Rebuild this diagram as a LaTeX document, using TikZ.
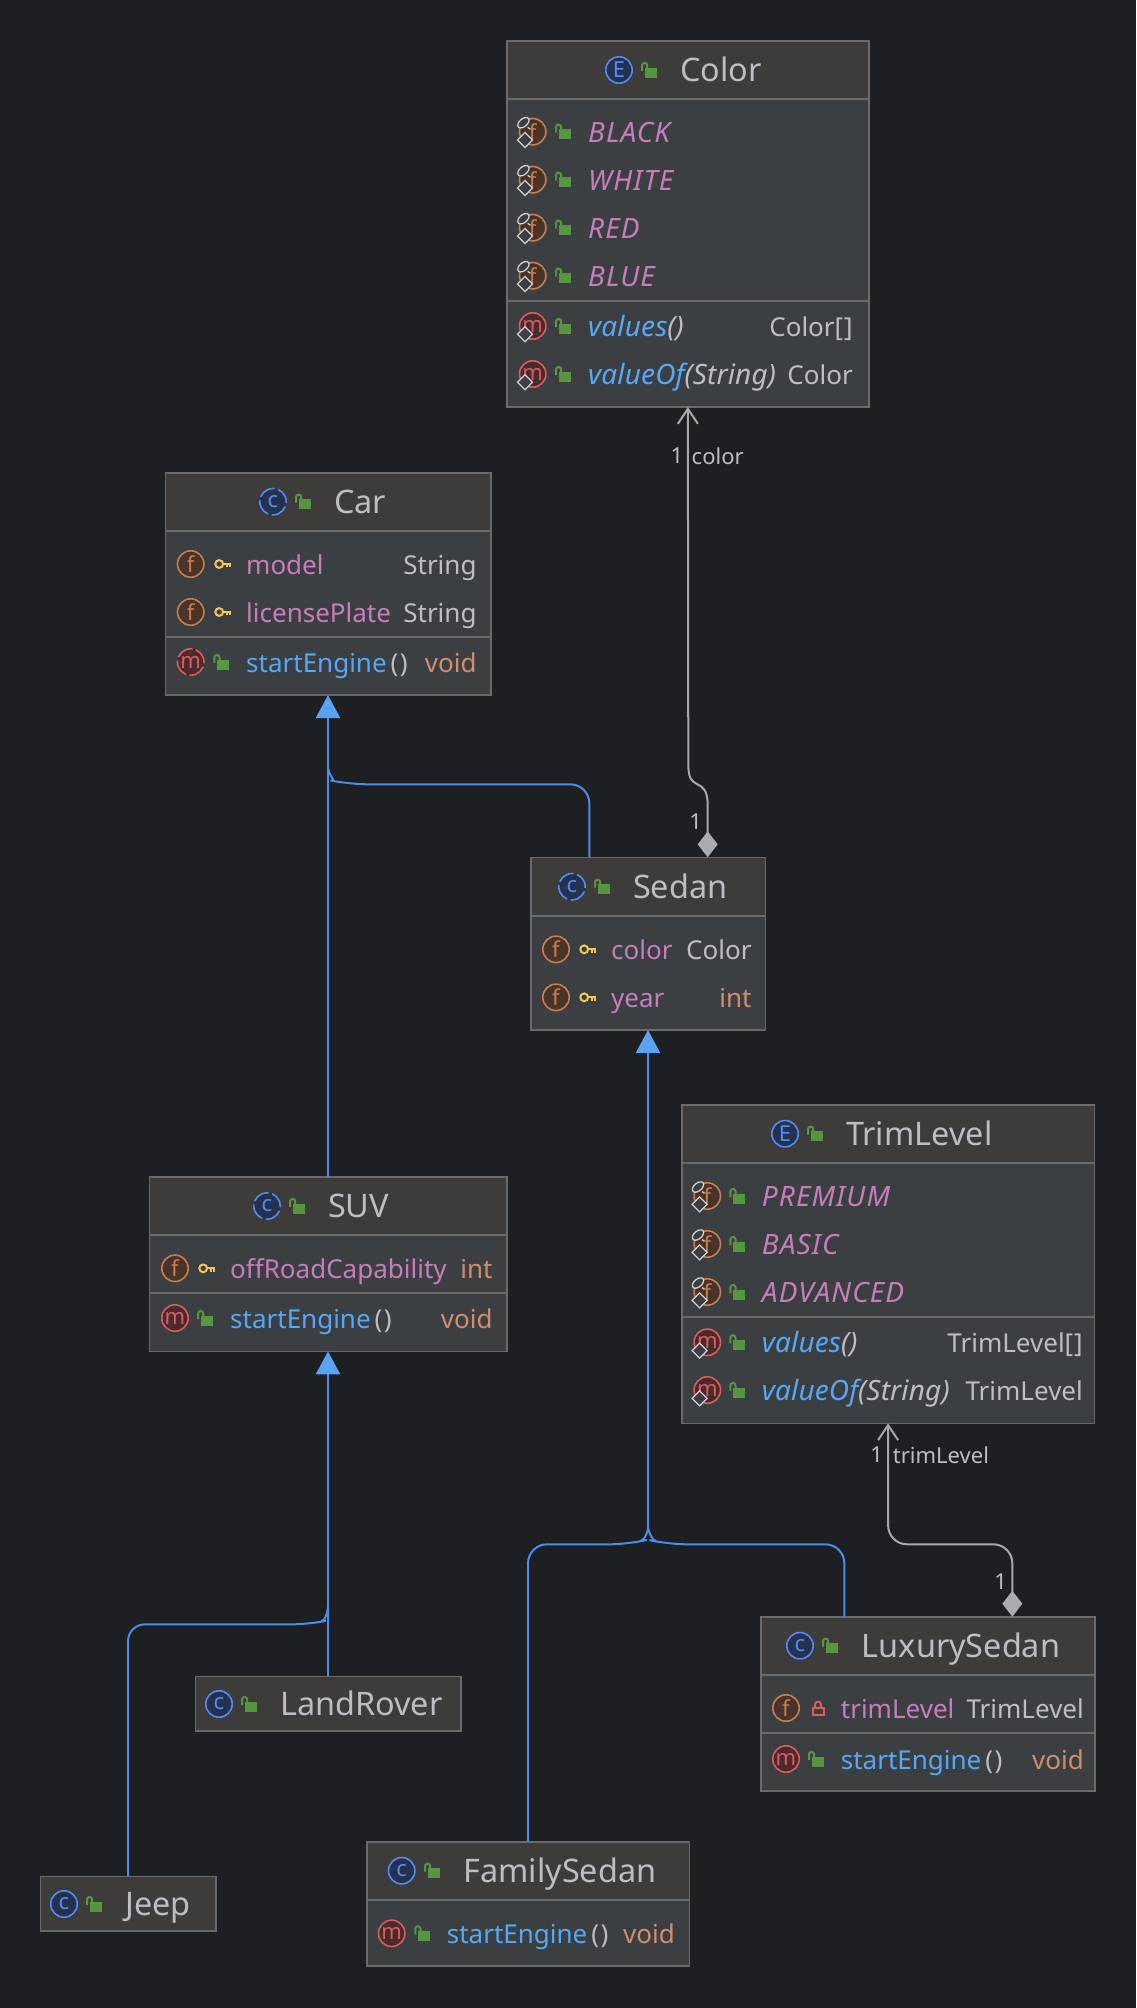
\documentclass[tikz,border=0pt]{standalone}
\usepackage{fontspec}
\setmainfont{Noto Sans}
\usepackage{tikz}
\usetikzlibrary{positioning, arrows.meta, calc}
\definecolor{canvas}{HTML}{1E1F22}
\definecolor{bodyfill}{HTML}{3C3F41}
\definecolor{headfill}{HTML}{3E3C3B}
\definecolor{rim}{HTML}{6A6A6A}
\definecolor{plain}{HTML}{BCBEC4}
\definecolor{purple}{HTML}{C77DBB}
\definecolor{method}{HTML}{56A8F5}
\definecolor{kw}{HTML}{CF8E6D}
\definecolor{edgeblue}{HTML}{4A8CE8}
\definecolor{tipblue}{HTML}{5AA2F5}
\definecolor{edgegray}{HTML}{A9A9A9}
\definecolor{clsline}{HTML}{548AF7}
\definecolor{clsfill}{HTML}{25324D}
\definecolor{fldline}{HTML}{C77F50}
\definecolor{fldfill}{HTML}{4A3328}
\definecolor{mtdline}{HTML}{DB5C5C}
\definecolor{mtdfill}{HTML}{4A2A2D}
\definecolor{lockgreen}{HTML}{57963F}
\definecolor{keyyellow}{HTML}{F2C55C}
\definecolor{badge}{HTML}{CED0D6}
\tikzstyle{bx}=[%
      rectangle, draw=rim, line width=1.6pt, fill=bodyfill, anchor=north west, inner sep=0pt, outer sep=0pt
]
\tikzstyle{ic}=[%
      circle, line width=1.6pt, minimum size=26.4pt, inner sep=0pt, font=\fontsize{22}{22}\selectfont
]
\tikzstyle{cl}=[ic, draw=clsline, fill=clsfill, text=clsline]
\tikzstyle{ab}=[cl, dash pattern=on 17.2pt off 3.6pt, dash phase=1.8pt]
\tikzstyle{fi}=[ic, draw=fldline, fill=fldfill, text=fldline]
\tikzstyle{mt}=[ic, draw=mtdline, fill=mtdfill, text=mtdline]
\tikzstyle{ti}=[anchor=base west, inner sep=0pt, text=plain, font=\fontsize{32.4}{32.4}\selectfont]
\tikzstyle{fl}=[anchor=base west, inner sep=0pt, text=purple, font=\fontsize{26}{26}\selectfont]
\tikzstyle{sf}=[fl, font=\fontsize{28}{28}\selectfont\itshape\addfontfeature{LetterSpace=4}]
\tikzstyle{fn}=[fl, text=method]
\tikzstyle{sm}=[fn, font=\fontsize{28}{28}\selectfont\itshape\addfontfeature{LetterSpace=0.5}]
\tikzstyle{ty}=[anchor=base east, inner sep=0pt, text=plain, font=\fontsize{26}{26}\selectfont]
\tikzstyle{lb}=[inner sep=0pt, text=plain, font=\fontsize{22}{22}\selectfont]
\tikzstyle{ge}=[edgeblue, line width=2pt]
\tikzstyle{gt}=[-{Triangle[length=23pt,width=24pt,color=tipblue]}]
\tikzstyle{as}=[edgegray, line width=2pt, rounded corners=19pt,
      {Diamond[length=26pt,width=20pt,color=plain!90!black]}-{Straight Barb[length=15pt,width=20pt,color=edgegray]}
]
\tikzset{
  openlock/.pic={
    \fill[lockgreen] (-4,-2.3) rectangle (8,7.7);
    \draw[lockgreen, line width=2pt] (-7,1) -- (-7,-4.5) arc[start angle=180, end angle=360, radius=2.6] -- (-1.8,-2);
  },
  redlock/.pic={
    \draw[mtdline, line width=2pt] (-5.5,-0.5) rectangle (5.5,7);
    \draw[mtdline, line width=2pt] (-3,-0.5) -- (-3,-3.5) arc[start angle=180, end angle=360, radius=3] -- (3,-0.5);
  },
  keyicon/.pic={
    \draw[keyyellow, line width=2pt] (-3.8,0) circle[radius=3.9];
    \draw[keyyellow, line width=2pt] (0,0) -- (8,0) (3.6,0) -- (3.6,3.4) (7,0) -- (7,3.4);
  },
  finalbadge/.pic={
    \draw[badge, fill=bodyfill, line width=1.3pt] (-15.2,8.3) -- (-7.7,0.8) -- (-0.2,8.3) -- (-7.7,15.8) -- cycle;
  },
  staticbadge/.pic={
    \draw[badge, fill=bodyfill, line width=1.3pt, rotate around={40:(-9.3,-9)}] (-9.3,-9) ellipse[x radius=6.6, y radius=3.9];
    \draw[badge, line width=1.3pt] (-5,-4.5) -- (-3,-2.8);
  },
}
\newcommand{\classbox}[6]{%
  \node[bx, minimum width={(#4-#2)*1pt}, minimum height={(#5-#3)*1pt}] (#1) at (#2,#3) {};
  \fill[headfill] (#1.north west) rectangle (#1.east |- 0,#6);
  \draw[rim, line width=2pt] (#1.west |- 0,#6) -- (#1.east |- 0,#6);
  \draw[rim, line width=1.6pt] (#1.north west) rectangle (#1.south east);
}
\newcommand{\classhead}[7]{%
  \node[#2] (#1Icon) at (#4,#3) {#7};
  \pic at (#5,#3) {openlock};
  \node[ti] (#1Title) at (#6,#3+11.7) {#1};
}
\newcommand{\member}[8]{%
  \node[#2] (#1Icon) at (\ix,#8) {#3};
  \pic at (\lx,#8) {#4};
  \node[#5] (#1Name) at (\tx,#8+10.5) {#6};
  \node[ty] (#1Type) at (\rx,#8+10.5) {#7};
}
\newcommand{\pp}{\hspace{4pt}\textcolor{plain}{\textbf{(\hspace{1.5pt})}}}
\begin{document}
\begin{tikzpicture}[x=1pt, y=-1pt]
    \fill[canvas] (0,0) rectangle (1136,2008);
    \useasboundingbox (0,0) rectangle (1136,2008);

    \classbox{Color}{507}{41}{868.7}{407}{99}
    \classbox{Car}{165.3}{473}{491}{695}{531}
    \classbox{Sedan}{530.7}{857.3}{765.3}{1030}{915.7}
    \classbox{TrimLevel}{681.7}{1105}{1094.5}{1423.3}{1162.7}
    \classbox{SUV}{149.3}{1176.7}{506.7}{1351.3}{1235}
    \classbox{LuxurySedan}{760.7}{1616.7}{1095}{1791}{1675}
    \classbox{FamilySedan}{366.7}{1841.7}{689.3}{1966}{1900}
    \classbox{LandRover}{195.3}{1676.3}{460.7}{1731.3}{1731.3}
    \classbox{Jeep}{40.3}{1876.3}{215.7}{1931.3}{1931.3}
    \draw[rim, line width=2pt] (Color.west |- 0,300.7) -- (Color.east |- 0,300.7);
    \draw[rim, line width=2pt] (Car.west |- 0,636.7) -- (Car.east |- 0,636.7);
    \draw[rim, line width=2pt] (TrimLevel.west |- 0,1316.7) -- (TrimLevel.east |- 0,1316.7);
    \draw[rim, line width=2pt] (SUV.west |- 0,1292.7) -- (SUV.east |- 0,1292.7);
    \draw[rim, line width=2pt] (LuxurySedan.west |- 0,1732.7) -- (LuxurySedan.east |- 0,1732.7);

    \classhead{Color}{cl}{70}{619}{649}{680}{E}
    \classhead{Car}{ab}{501.7}{273}{303}{334}{c}
    \classhead{Sedan}{ab}{886.7}{572}{602}{633}{c}
    \classhead{TrimLevel}{cl}{1133.7}{785}{815}{846}{E}
    \classhead{SUV}{ab}{1206}{267}{297}{328}{c}
    \classhead{LuxurySedan}{cl}{1645.7}{800}{830}{861.7}{c}
    \classhead{FamilySedan}{cl}{1870.7}{401.7}{432}{463.3}{c}
    \classhead{LandRover}{cl}{1704}{219}{249}{280}{c}
    \classhead{Jeep}{cl}{1904}{64}{94}{125}{c}

    \def\ix{532.7}\def\lx{563}\def\tx{588}\def\rx{853}
    \foreach \nm/\yy in {BLACK/131.7, WHITE/179.7, RED/227.7, BLUE/275.7} {
      \node[fi] (c\nm Icon) at (\ix,\yy) {f};
      \pic at (\ix,\yy) {staticbadge};
      \pic at (\ix,\yy) {finalbadge};
      \pic at (\lx,\yy) {openlock};
      \node[sf] (c\nm) at (\tx,\yy+10.5) {\nm};
    }
    \member{cValues}{mt}{m}{openlock}{sm}{values\textcolor{plain}{()}}{Color\textbf{[\hspace{1pt}]}}{326}
    \member{cValueOf}{mt}{m}{openlock}{sm}{valueOf\textcolor{plain}{(String)}}{Color}{374}
    \pic at (\ix,326) {finalbadge};
    \pic at (\ix,374) {finalbadge};

    \def\ix{190.7}\def\lx{223}\def\tx{246}\def\rx{476.7}
    \member{model}{fi}{f}{keyicon}{fl}{model}{String}{564}
    \member{licensePlate}{fi}{f}{keyicon}{fl}{licensePlate}{String}{612}
    \def\lx{221.3}
    \member{carStart}{ab, draw=mtdline, fill=mtdfill, text=mtdline}{m}{openlock}{fn}{startEngine\pp}{\textcolor{kw}{void}}{662}

    \def\ix{556}\def\lx{588}\def\tx{611}\def\rx{751.7}
    \member{color}{fi}{f}{keyicon}{fl}{color}{Color}{949.3}
    \member{year}{fi}{f}{keyicon}{fl}{year}{\textcolor{kw}{int}}{997.3}

    \def\ix{707.3}\def\lx{737.3}\def\tx{761.7}\def\rx{1083}
    \foreach \nm/\yy in {PREMIUM/1196, BASIC/1244, ADVANCED/1292} {
      \node[fi] (t\nm Icon) at (\ix,\yy) {f};
      \pic at (\ix,\yy) {staticbadge};
      \pic at (\ix,\yy) {finalbadge};
      \pic at (\lx,\yy) {openlock};
      \node[sf] (t\nm) at (\tx,\yy+10.5) {\nm};
    }
    \member{tValues}{mt}{m}{openlock}{sm}{values\textcolor{plain}{()}}{TrimLevel\textbf{[\hspace{1pt}]}}{1342.3}
    \member{tValueOf}{mt}{m}{openlock}{sm}{valueOf\textcolor{plain}{(String)}}{TrimLevel}{1390}
    \pic at (\ix,1342.3) {finalbadge};
    \pic at (\ix,1390) {finalbadge};

    \def\ix{175}\def\lx{207}\def\tx{230}\def\rx{492.7}
    \member{offRoad}{fi}{f}{keyicon}{fl}{offRoadCapability}{\textcolor{kw}{int}}{1268.3}
    \def\lx{205}
    \member{suvStart}{mt}{m}{openlock}{fn}{startEngine\pp}{\textcolor{kw}{void}}{1318}

    \def\ix{786}\def\lx{818}\def\tx{840.7}\def\rx{1084}
    \member{trimField}{fi}{f}{redlock}{fl}{trimLevel}{TrimLevel}{1708}
    \def\lx{816}
    \member{luxStart}{mt}{m}{openlock}{fn}{startEngine\pp}{\textcolor{kw}{void}}{1759}

    \def\ix{391.7}\def\lx{422.3}\def\tx{446.7}\def\rx{675}
    \member{famStart}{mt}{m}{openlock}{fn}{startEngine\pp}{\textcolor{kw}{void}}{1933.3}

    \coordinate (carJoin) at (SUV.north |- 0,768);
    \coordinate (sedanJoin) at (Sedan.south |- 0,1527);
    \coordinate (suvJoin) at (SUV.south |- 0,1605);

    \draw[ge, gt] (SUV.north) -- (SUV.north |- Car.south);
    \draw[ge, rounded corners=19pt] ([xshift=-58.7pt]Sedan.north) |- (349,784.3) [sharp corners] .. controls (338,782) and (330,779) .. (carJoin);
    \draw[ge, gt] (LandRover.north) -- (SUV.south);
    \draw[ge, rounded corners=17pt] (Jeep.north) |- (309.3,1624.3) [sharp corners] .. controls (318,1622.5) and (322,1621) .. (324,1619.7) .. controls (326.5,1616) and (328,1610) .. (suvJoin);
    \draw[ge, gt, rounded corners=19pt] (FamilySedan.north) |- (628.3,1544.3) [sharp corners] .. controls (636,1542.5) and (641,1541) .. (643.3,1539.3) .. controls (646,1536) and (648,1531) .. (sedanJoin) -- (Sedan.south);
    \draw[ge, rounded corners=19pt] ([xshift=-83.5pt]LuxurySedan.north) |- (668,1544.3) [sharp corners] .. controls (660,1542.5) and (655,1541) .. (653,1539) .. controls (650.5,1536) and (648.5,1531) .. (sedanJoin);
    \draw[as, rounded corners=0pt] ([xshift=59.7pt]Sedan.north) -- (707.7,803) .. controls (707,790) and (703,787) .. (697,784) .. controls (691,781) and (688.3,778) .. (688.3,763) -- (Color.south);
    \draw[as] ([xshift=84.5pt]LuxurySedan.north) |- (TrimLevel.south |- 0,1544.3) -- (TrimLevel.south);

    \node[lb] (colorOne) at (677,456) {1};
    \node[lb, anchor=west] (colorRole) at (691.5,456) {color};
    \node[lb] (sedanOne) at (695.7,821.7) {1};
    \node[lb] (trimOne) at (876.7,1455) {1};
    \node[lb, anchor=west] (trimRole) at (892.7,1455) {trimLevel};
    \node[lb] (luxOne) at (1000.7,1581.7) {1};
\end{tikzpicture}
\end{document}
